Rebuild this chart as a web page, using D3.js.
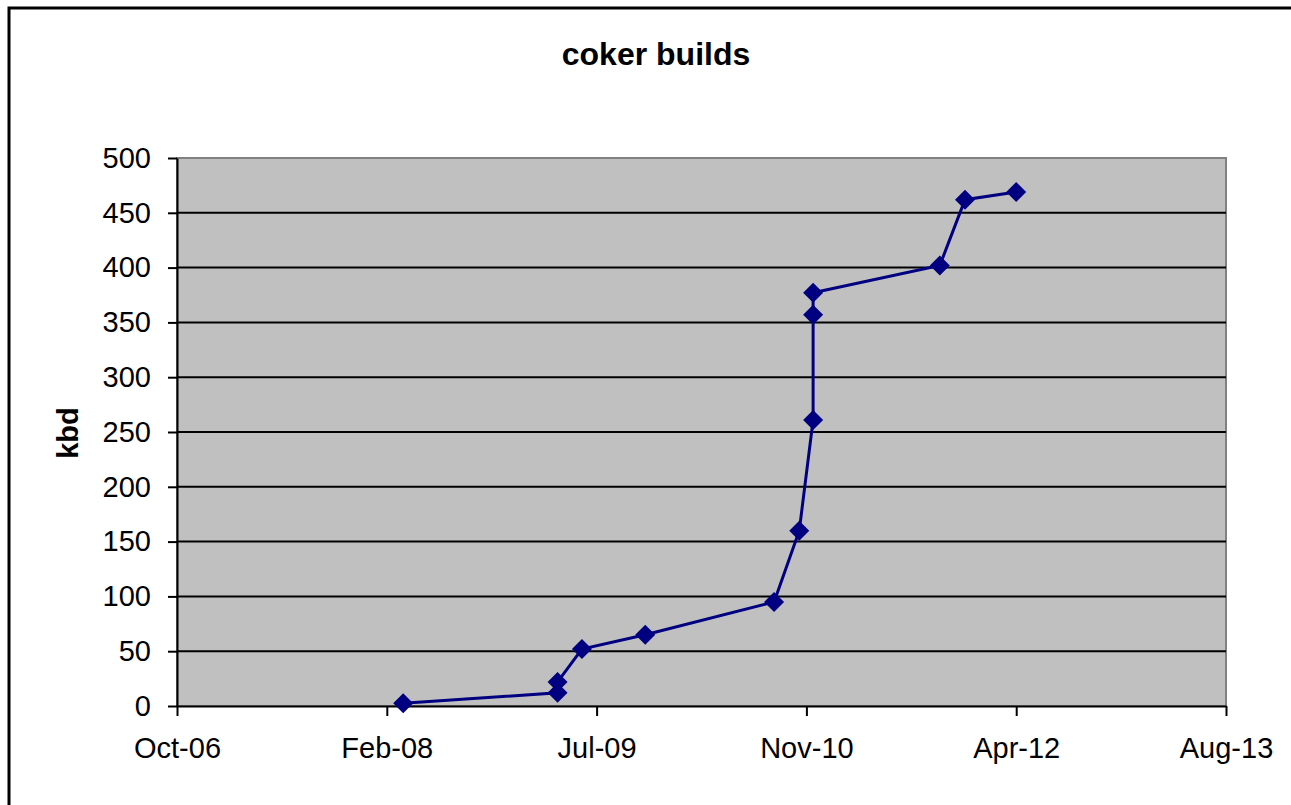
<!DOCTYPE html>
<html>
<head>
  <title>coker builds</title>
  <script src="https://d3js.org/d3.v7.min.js"></script>
  <style>
    body { margin: 0; background: #fff; }
    svg { display: block; font-family: Arial, "Liberation Sans", sans-serif; }
  </style>
</head>
<body>
  <div id="chart"></div>
  <script>
    // data (dates of each build, capacity in kbd)
    const dates = ["2008-04-01", "2009-04-04", "2009-04-04", "2009-06-01", "2009-10-30",
                   "2010-09-02", "2010-11-01", "2010-12-04", "2010-12-04", "2010-12-04",
                   "2011-10-02", "2011-12-01", "2012-04-01"];
    const kbd = [2.5, 12, 22, 52, 65, 95, 160, 261, 357, 377, 402, 462, 469];

    // Excel date axis, major unit 500 days
    const xTickDates = ["2006-10-10", "2008-02-22", "2009-07-06", "2010-11-18", "2012-04-01", "2013-08-14"];
    const xTickLabels = ["Oct-06", "Feb-08", "Jul-09", "Nov-10", "Apr-12", "Aug-13"];
    const yTicks = [0, 50, 100, 150, 200, 250, 300, 350, 400, 450, 500];

    const width = 1291, height = 805;
    const plot = { left: 177, right: 1226, top: 158, bottom: 706 };

    const parse = d3.utcParse("%Y-%m-%d");
    const data = dates.map((d, i) => ({ date: parse(d), value: kbd[i] }));
    const tickDates = xTickDates.map(parse);

    const svg = d3.select("#chart").append("svg")
      .attr("width", width)
      .attr("height", height);

    // outer chart frame (runs off the right and bottom)
    svg.append("rect")
      .attr("x", 9).attr("y", 8)
      .attr("width", 1400).attr("height", 900)
      .attr("fill", "#fff")
      .attr("stroke", "#000")
      .attr("stroke-width", 3);

    const x = d3.scaleUtc()
      .domain([tickDates[0], tickDates[tickDates.length - 1]])
      .range([plot.left, plot.right]);

    const y = d3.scaleLinear()
      .domain([0, 500])
      .range([plot.bottom, plot.top]);

    // plot area
    svg.append("rect")
      .attr("x", plot.left).attr("y", plot.top)
      .attr("width", plot.right - plot.left)
      .attr("height", plot.bottom - plot.top)
      .attr("fill", "#c0c0c0")
      .attr("stroke", "#808080")
      .attr("stroke-width", 2);

    // gridlines
    svg.append("g")
      .selectAll("line")
      .data(yTicks.slice(1, -1))
      .join("line")
      .attr("x1", plot.left).attr("x2", plot.right)
      .attr("y1", d => y(d)).attr("y2", d => y(d))
      .attr("stroke", "#000")
      .attr("stroke-width", 2);

    // y axis
    const yAxis = svg.append("g")
      .attr("transform", `translate(${plot.left},0)`)
      .call(d3.axisLeft(y).tickValues(yTicks).tickSize(9).tickPadding(17).tickSizeOuter(0));
    yAxis.select(".domain").attr("stroke-width", 2);
    yAxis.selectAll(".tick line").attr("stroke-width", 2);
    yAxis.selectAll("text")
      .attr("font-size", 29)
      .attr("font-family", "Arial, 'Liberation Sans', sans-serif")
      .attr("fill", "#000");

    // x axis
    const xAxis = svg.append("g")
      .attr("transform", `translate(0,${plot.bottom})`)
      .call(d3.axisBottom(x).tickValues(tickDates)
        .tickFormat((d, i) => xTickLabels[i])
        .tickSize(10).tickPadding(21).tickSizeOuter(0));
    xAxis.select(".domain").attr("stroke-width", 2);
    xAxis.selectAll(".tick line").attr("stroke-width", 2);
    xAxis.selectAll("text")
      .attr("font-size", 29)
      .attr("font-family", "Arial, 'Liberation Sans', sans-serif")
      .attr("fill", "#000");

    // series line
    const line = d3.line()
      .x(d => x(d.date))
      .y(d => y(d.value));

    svg.append("path")
      .datum(data)
      .attr("d", line)
      .attr("fill", "none")
      .attr("stroke", "#000080")
      .attr("stroke-width", 3);

    // diamond markers
    svg.append("g")
      .selectAll("path")
      .data(data)
      .join("path")
      .attr("d", d3.symbol(d3.symbolSquare, 200))
      .attr("transform", d => `translate(${x(d.date)},${y(d.value)}) rotate(45)`)
      .attr("fill", "#000080");

    // title
    svg.append("text")
      .attr("x", 656)
      .attr("y", 65)
      .attr("text-anchor", "middle")
      .attr("font-size", 32)
      .attr("font-weight", "bold")
      .text("coker builds");

    // y axis label
    svg.append("text")
      .attr("transform", "translate(78,433) rotate(-90)")
      .attr("text-anchor", "middle")
      .attr("font-size", 29)
      .attr("font-weight", "bold")
      .text("kbd");
  </script>
</body>
</html>
